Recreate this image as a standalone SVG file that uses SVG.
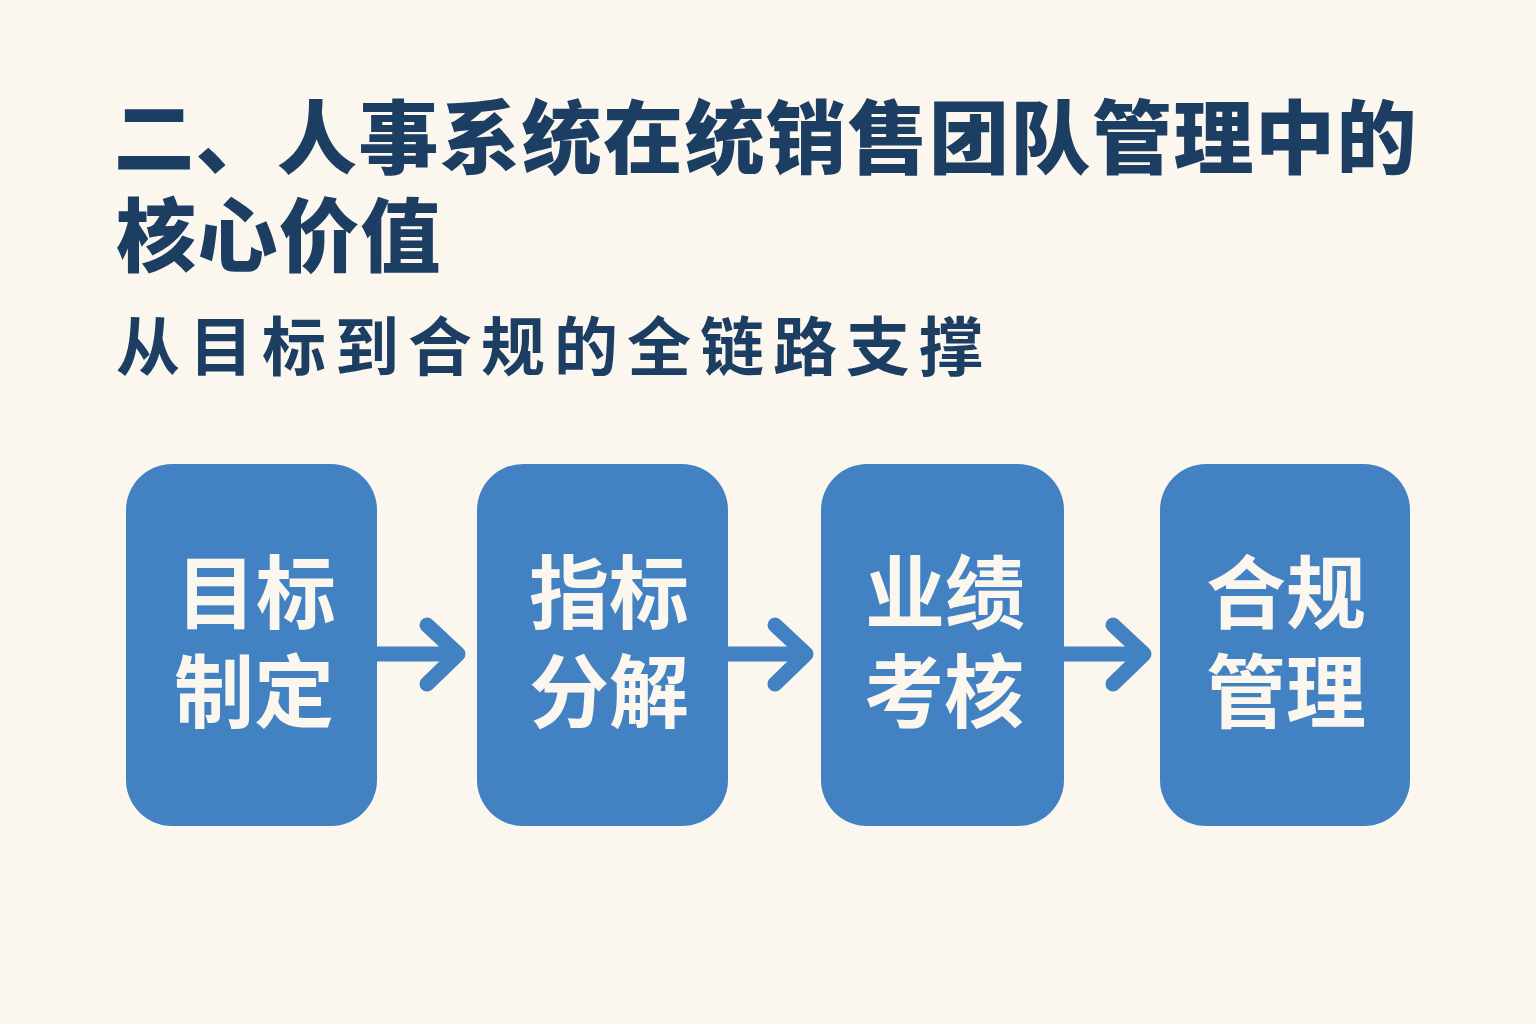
<svg xmlns="http://www.w3.org/2000/svg" width="1536" height="1024" viewBox="0 0 1536 1024">
<style>
.title{font-family:"Noto Sans CJK SC","Noto Sans",sans-serif;font-weight:900;font-size:80px;fill:#1d3e63;letter-spacing:1.5px}
.sub{font-family:"Noto Sans CJK SC","Noto Sans",sans-serif;font-weight:700;font-size:64px;fill:#1d3e63;letter-spacing:9px}
.box{fill:#4282c3}
.lbl{font-family:"Noto Sans CJK SC","Noto Sans",sans-serif;font-weight:700;font-size:80px;fill:#fbf6ee;text-anchor:middle}
.conn{fill:none;stroke:#4282c3;stroke-width:15;stroke-linecap:round;stroke-linejoin:round}
.shaft{fill:none;stroke:#4282c3;stroke-width:15}
</style>
<rect width="1536" height="1024" fill="#fbf7ef"/>
<g id="title">
<text class="title" x="114" y="167">二、人事系统在统销售团队管理中的</text>
<text class="title" x="116" y="265">核心价值</text>
<text class="sub" x="116" y="370">从目标到合规的全链路支撑</text>
</g>
<g id="connectors">
<line class="shaft" x1="370" y1="654" x2="455" y2="654"/>
<polyline class="conn" points="427,625 458,654 427,684"/>
<line class="shaft" x1="720" y1="654" x2="803" y2="654"/>
<polyline class="conn" points="775,625 806,654 775,684"/>
<line class="shaft" x1="1058" y1="654" x2="1141" y2="654"/>
<polyline class="conn" points="1113,625 1144,654 1113,684"/>
</g>
<g id="node1">
<rect class="box" x="126" y="464" width="251" height="362" rx="46"/>
<text class="lbl" x="256" y="622">目标</text>
<text class="lbl" x="254" y="721">制定</text>
</g>
<g id="node2">
<rect class="box" x="477" y="464" width="251" height="362" rx="46"/>
<text class="lbl" x="609" y="622">指标</text>
<text class="lbl" x="609" y="721">分解</text>
</g>
<g id="node3">
<rect class="box" x="821" y="464" width="243" height="362" rx="46"/>
<text class="lbl" x="945" y="622">业绩</text>
<text class="lbl" x="944" y="721">考核</text>
</g>
<g id="node4">
<rect class="box" x="1160" y="464" width="250" height="362" rx="46"/>
<text class="lbl" x="1286" y="622">合规</text>
<text class="lbl" x="1286" y="721">管理</text>
</g>
</svg>
